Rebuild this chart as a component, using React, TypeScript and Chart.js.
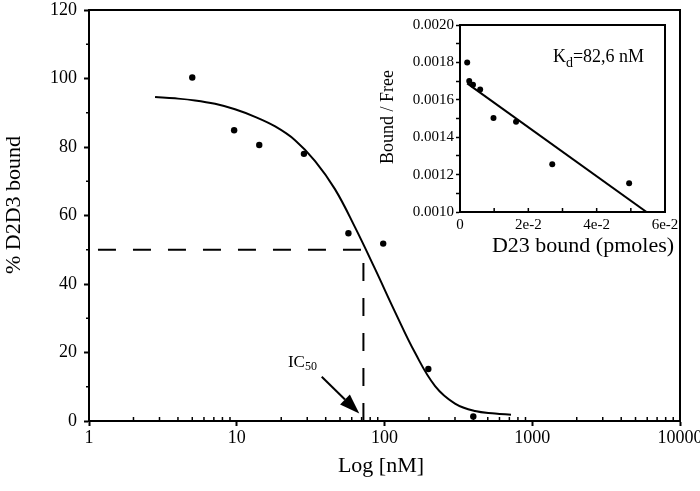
import React, { useEffect, useRef } from "react";
import { Chart, registerables } from "chart.js";

Chart.register(...registerables);

const FONT_FAMILY = "'Liberation Serif', 'Times New Roman', serif";

// ---------- Main chart data ----------
const concentrationNM = [5, 9.6, 14.2, 28.5, 57, 98, 198, 399];
const percentBound = [100.3, 84.9, 80.6, 78.0, 54.8, 51.8, 15.2, 1.3];
const fitConcentrationNM = [2.8, 3.82, 5.22, 7.13, 9.73, 13.3, 18.2, 24.8, 33.9, 46.2, 63.1, 86.3, 118, 161, 220, 300, 410, 560, 718];
const fitPercentBound = [94.6, 94.2, 93.6, 92.6, 91.0, 88.8, 86.0, 82.0, 75.9, 67.7, 56.6, 44.4, 31.8, 19.9, 10.2, 5.1, 2.9, 2.2, 1.8];
const xMajorTicks = [1, 10, 100, 1000, 10000];
const yMajorTicks = [0, 20, 40, 60, 80, 100, 120];
const yMinorTicks = [10, 30, 50, 70, 90, 110];
const IC50_NM = 72;
const HALF_BOUND = 50;
const DASH_START_NM = 1.15;
const ARROW_FROM = { x: 37.6, y: 12.9 };
const ARROW_TO = { x: 67.5, y: 2.2 };
const IC50_LABEL_AT = { x: 22.2, y: 17 };

// ---------- Inset (Scatchard) data ----------
const boundPmoles = [0.0021, 0.0027, 0.0038, 0.0059, 0.0098, 0.0164, 0.027, 0.0495];
const boundOverFree = [0.0018, 0.0017, 0.00168, 0.001655, 0.001503, 0.001482, 0.001255, 0.001154];
const regressionX = [0.0021, 0.0546];
const regressionY = [0.001688, 0.001];
const insetXTicks = [0, 0.02, 0.04, 0.06];
const insetXTickLabels = ["0", "2e-2", "4e-2", "6e-2"];
const insetXMinorTicks = [0.01, 0.03, 0.05];
const insetYTicks = [0.001, 0.0012, 0.0014, 0.0016, 0.0018, 0.002];
const insetYMinorTicks = [0.0011, 0.0013, 0.0015, 0.0017, 0.0019];
const KD_TEXT = "=82,6 nM";
const KD_AT = { x: 0.0272, y: 0.001803 };

const BLACK = "#000";

function font(size: number) {
  return { family: FONT_FAMILY, size, weight: "normal" as const };
}

const mainDecor = {
  id: "mainDecor",
  afterDraw(chart: any) {
    const { ctx, chartArea: a } = chart;
    const x = chart.scales.x;
    const y = chart.scales.y;
    ctx.save();
    ctx.strokeStyle = BLACK;
    ctx.fillStyle = BLACK;
    // frame top + right
    ctx.lineWidth = 2;
    ctx.beginPath();
    ctx.moveTo(a.left - 1, a.top);
    ctx.lineTo(a.right, a.top);
    ctx.lineTo(a.right, a.bottom + 1);
    ctx.stroke();
    // minor x ticks (inward)
    ctx.lineWidth = 1.5;
    for (let d = 1; d < 10000; d *= 10) {
      for (let m = 2; m <= 9; m++) {
        const px = x.getPixelForValue(d * m);
        ctx.beginPath();
        ctx.moveTo(px, a.bottom);
        ctx.lineTo(px, a.bottom - 4);
        ctx.stroke();
      }
    }
    // minor y ticks (outward)
    yMinorTicks.forEach((v) => {
      const py = y.getPixelForValue(v);
      ctx.beginPath();
      ctx.moveTo(a.left, py);
      ctx.lineTo(a.left - 3, py);
      ctx.stroke();
    });
    // IC50 arrow
    const x0 = x.getPixelForValue(ARROW_FROM.x);
    const y0 = y.getPixelForValue(ARROW_FROM.y);
    const x1 = x.getPixelForValue(ARROW_TO.x);
    const y1 = y.getPixelForValue(ARROW_TO.y);
    const ang = Math.atan2(y1 - y0, x1 - x0);
    const headLen = 20;
    const headHalf = 7;
    const bx = x1 - headLen * Math.cos(ang);
    const by = y1 - headLen * Math.sin(ang);
    ctx.lineWidth = 2;
    ctx.beginPath();
    ctx.moveTo(x0, y0);
    ctx.lineTo(bx, by);
    ctx.stroke();
    ctx.beginPath();
    ctx.moveTo(x1, y1);
    ctx.lineTo(bx + headHalf * Math.sin(ang), by - headHalf * Math.cos(ang));
    ctx.lineTo(bx - headHalf * Math.sin(ang), by + headHalf * Math.cos(ang));
    ctx.closePath();
    ctx.fill();
    // IC50 label
    const lx = x.getPixelForValue(IC50_LABEL_AT.x);
    const ly = y.getPixelForValue(IC50_LABEL_AT.y);
    ctx.textBaseline = "middle";
    ctx.textAlign = "left";
    ctx.font = `17px ${FONT_FAMILY}`;
    ctx.fillText("IC", lx, ly);
    const w = ctx.measureText("IC").width;
    ctx.font = `12px ${FONT_FAMILY}`;
    ctx.fillText("50", lx + w, ly + 4);
    // axis titles
    ctx.font = `22px ${FONT_FAMILY}`;
    ctx.textAlign = "center";
    ctx.fillText("Log [nM]", 381, 466);
    ctx.save();
    ctx.translate(14, 205);
    ctx.rotate(-Math.PI / 2);
    ctx.fillText("% D2D3 bound", 0, 0);
    ctx.restore();
    ctx.restore();
  },
};

const insetDecor = {
  id: "insetDecor",
  afterDraw(chart: any) {
    const { ctx, chartArea: a } = chart;
    const x = chart.scales.x;
    const y = chart.scales.y;
    ctx.save();
    ctx.strokeStyle = BLACK;
    ctx.fillStyle = BLACK;
    ctx.lineWidth = 2;
    ctx.beginPath();
    ctx.moveTo(a.left - 1, a.top);
    ctx.lineTo(a.right, a.top);
    ctx.lineTo(a.right, a.bottom + 1);
    ctx.stroke();
    // x ticks (inward)
    ctx.lineWidth = 1.5;
    [...insetXTicks, ...insetXMinorTicks].forEach((v) => {
      const px = x.getPixelForValue(v);
      ctx.beginPath();
      ctx.moveTo(px, a.bottom);
      ctx.lineTo(px, a.bottom - 4);
      ctx.stroke();
    });
    // Kd label
    const kx = x.getPixelForValue(KD_AT.x);
    const ky = y.getPixelForValue(KD_AT.y);
    ctx.textBaseline = "alphabetic";
    ctx.textAlign = "left";
    ctx.font = `18px ${FONT_FAMILY}`;
    ctx.fillText("K", kx, ky);
    let off = ctx.measureText("K").width;
    ctx.font = `14px ${FONT_FAMILY}`;
    ctx.fillText("d", kx + off, ky + 5);
    off += ctx.measureText("d").width;
    ctx.font = `18px ${FONT_FAMILY}`;
    ctx.fillText(KD_TEXT, kx + off, ky);
    // axis titles
    ctx.textBaseline = "middle";
    ctx.textAlign = "center";
    ctx.font = `22px ${FONT_FAMILY}`;
    ctx.fillText("D23 bound (pmoles)", 203, 231);
    ctx.save();
    ctx.translate(8, 102);
    ctx.rotate(-Math.PI / 2);
    ctx.font = `18px ${FONT_FAMILY}`;
    ctx.fillText("Bound / Free", 0, 0);
    ctx.restore();
    ctx.restore();
  },
};

function mainConfig(): any {
  const curve = fitConcentrationNM.map((v, i) => ({ x: v, y: fitPercentBound[i] }));
  const points = concentrationNM.map((v, i) => ({ x: v, y: percentBound[i] }));
  return {
    type: "scatter",
    data: {
      datasets: [
        {
          data: curve,
          showLine: true,
          borderColor: BLACK,
          borderWidth: 2,
          pointRadius: 0,
          tension: 0.4,
        },
        {
          data: points,
          showLine: false,
          pointRadius: 3.2,
          backgroundColor: BLACK,
          borderWidth: 0,
          clip: false,
        },
        {
          data: [
            { x: DASH_START_NM, y: HALF_BOUND },
            { x: IC50_NM, y: HALF_BOUND },
          ],
          showLine: true,
          borderColor: BLACK,
          borderWidth: 2,
          borderDash: [18, 17],
          pointRadius: 0,
        },
        {
          data: [
            { x: IC50_NM, y: 0 },
            { x: IC50_NM, y: HALF_BOUND },
          ],
          showLine: true,
          borderColor: BLACK,
          borderWidth: 2,
          borderDash: [18, 17],
          pointRadius: 0,
        },
      ],
    },
    options: {
      animation: false,
      responsive: false,
      devicePixelRatio: 1,
      events: [],
      layout: { padding: { left: 0, top: 10, right: 20, bottom: 0 } },
      plugins: { legend: { display: false }, tooltip: { enabled: false } },
      scales: {
        x: {
          type: "logarithmic",
          min: 1,
          max: 10000,
          afterBuildTicks: (s: any) => {
            s.ticks = xMajorTicks.map((v) => ({ value: v }));
          },
          ticks: {
            callback: (v: any) => String(v),
            font: font(18),
            color: BLACK,
            padding: 1,
            maxRotation: 0,
            autoSkip: false,
          },
          grid: {
            display: true,
            drawOnChartArea: false,
            drawTicks: true,
            tickLength: 5,
            tickColor: BLACK,
            tickWidth: 2,
          },
          border: { display: true, color: BLACK, width: 2 },
          afterFit: (s: any) => {
            s.height = 70;
            s.paddingLeft = 0;
            s.paddingRight = 0;
          },
        },
        y: {
          type: "linear",
          min: 0,
          max: 120,
          afterBuildTicks: (s: any) => {
            s.ticks = yMajorTicks.map((v) => ({ value: v }));
          },
          ticks: { font: font(18), color: BLACK, padding: 7 },
          grid: {
            display: true,
            drawOnChartArea: false,
            drawTicks: true,
            tickLength: 5,
            tickColor: BLACK,
            tickWidth: 2,
          },
          border: { display: true, color: BLACK, width: 2 },
          afterFit: (s: any) => {
            s.width = 89;
            s.paddingTop = 0;
            s.paddingBottom = 0;
          },
        },
      },
    },
    plugins: [mainDecor],
  };
}

function insetConfig(): any {
  const pts = boundPmoles.map((v, i) => ({ x: v, y: boundOverFree[i] }));
  const line = regressionX.map((v, i) => ({ x: v, y: regressionY[i] }));
  return {
    type: "scatter",
    data: {
      datasets: [
        {
          data: line,
          showLine: true,
          borderColor: BLACK,
          borderWidth: 2,
          pointRadius: 0,
        },
        {
          data: pts,
          showLine: false,
          pointRadius: 3,
          backgroundColor: BLACK,
          borderWidth: 0,
          clip: false,
        },
      ],
    },
    options: {
      animation: false,
      responsive: false,
      devicePixelRatio: 1,
      events: [],
      layout: { padding: { left: 0, top: 10, right: 15, bottom: 0 } },
      plugins: { legend: { display: false }, tooltip: { enabled: false } },
      scales: {
        x: {
          type: "linear",
          min: 0,
          max: 0.06,
          afterBuildTicks: (s: any) => {
            s.ticks = insetXTicks.map((v) => ({ value: v }));
          },
          ticks: {
            callback: (v: any, i: number) => insetXTickLabels[i] ?? "",
            font: font(15),
            color: BLACK,
            padding: 0,
            maxRotation: 0,
            autoSkip: false,
          },
          grid: {
            display: true,
            drawOnChartArea: false,
            drawTicks: true,
            tickLength: 4,
            tickColor: "rgba(0,0,0,0)",
          },
          border: { display: true, color: BLACK, width: 2 },
          afterFit: (s: any) => {
            s.height = 58;
            s.paddingLeft = 0;
            s.paddingRight = 0;
          },
        },
        y: {
          type: "linear",
          min: 0.001,
          max: 0.002,
          afterBuildTicks: (s: any) => {
            s.ticks = [...insetYTicks, ...insetYMinorTicks]
              .sort((p, q) => p - q)
              .map((v) => ({ value: v }));
          },
          ticks: {
            callback: (v: any) =>
              insetYTicks.some((t) => Math.abs(t - v) < 1e-9) ? Number(v).toFixed(4) : "",
            font: font(15),
            color: BLACK,
            padding: 2,
            autoSkip: false,
          },
          grid: {
            display: true,
            drawOnChartArea: false,
            drawTicks: true,
            tickLength: 4,
            tickColor: BLACK,
            tickWidth: 1.5,
          },
          border: { display: true, color: BLACK, width: 2 },
          afterFit: (s: any) => {
            s.width = 80;
            s.paddingTop = 0;
            s.paddingBottom = 0;
          },
        },
      },
    },
    plugins: [insetDecor],
  };
}

export default function App() {
  const mainRef = useRef<HTMLCanvasElement>(null);
  const insetRef = useRef<HTMLCanvasElement>(null);
  useEffect(() => {
    const main = new Chart(mainRef.current as HTMLCanvasElement, mainConfig());
    const inset = new Chart(insetRef.current as HTMLCanvasElement, insetConfig());
    return () => {
      main.destroy();
      inset.destroy();
    };
  }, []);
  return (
    <div style={{ position: "fixed", left: 0, top: 0, width: 700, height: 491, background: "#fff" }}>
      <canvas ref={mainRef} width={700} height={491} style={{ position: "absolute", left: 0, top: 0 }} />
      <canvas ref={insetRef} width={300} height={255} style={{ position: "absolute", left: 380, top: 15 }} />
    </div>
  );
}
